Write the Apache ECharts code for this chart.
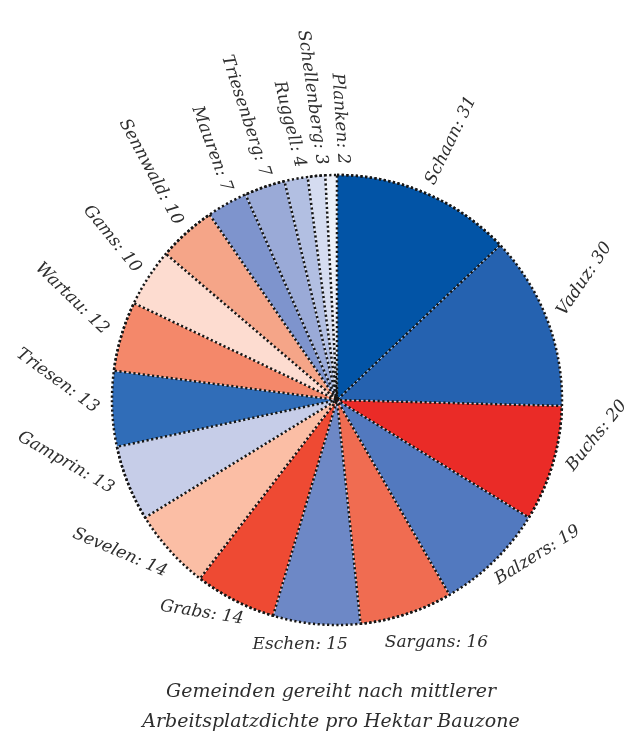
<!DOCTYPE html>
<html>
<head>
<meta charset="utf-8">
<script src="https://cdn.jsdelivr.net/npm/echarts@6/dist/echarts.min.js"></script>
<style>
  html, body { margin: 0; padding: 0; background: #fff; }
  #chart { width: 625px; height: 737px; }
</style>
</head>
<body>
<div id="chart"></div>
<script>
// Municipalities ordered by mean jobs per hectare of building zone
const municipalities = ['Schaan', 'Vaduz', 'Buchs', 'Balzers', 'Sargans', 'Eschen', 'Grabs', 'Sevelen',
  'Gamprin', 'Triesen', 'Wartau', 'Gams', 'Sennwald', 'Mauren', 'Triesenberg', 'Ruggell',
  'Schellenberg', 'Planken'];
const density = [31, 30, 20, 19, 16, 15, 14, 14, 13, 13, 12, 10, 10, 7, 7, 4, 3, 2];
const sliceColors = ['#0254a6', '#2562b0', '#ea2b27', '#5279bf', '#f06c51', '#6d88c6', '#ee4a33', '#fbbea5',
  '#c6cde8', '#306db8', '#f4886a', '#fddcd0', '#f5a588', '#7e94cd', '#9aaad7', '#b2bfe2',
  '#d5dcf0', '#eef1f9'];
const captionLines = ['Gemeinden gereiht nach mittlerer', 'Arbeitsplatzdichte pro Hektar Bauzone'];

// Label styling: tilt of each label (degrees, counter-clockwise), how the text
// sits against its slice (1 = starts at the rim, -1 = ends at the rim),
// extra distance from the rim and a small angular nudge (degrees).
const labelRotate = [64, 56, 51, 32, 0, 0, -9, -23, -30, -36, -44, -51, -62, -70, -72, -76, -82, -86];
const labelAnchor = [1, 1, 1, 0.75, 0.4, -0.3, -0.6, -0.7, -1, -1, -1, -1, -1, -1, -1, -1, -1, -1];
const labelPad = [10, 10, 10, 10, 22, 12, 10, 16, 10, 10, 12, 10, 10, 10, 10, 10, 10, 10];
const labelNudge = [0, 0, 0, 0, 0, 0, 0, 0, 0, 0, 0, 0, 0, 1.5, 1, 1.5, 1.5, 3];

const CX = 337, CY = 400, R = 225;
const LABEL_FONT_SIZE = 17;
const LABEL_FONT = 'italic ' + LABEL_FONT_SIZE + 'px "DejaVu Serif"';
const DOT = 2.2, DOT_GAP = 2.5, DOT_PERIOD = DOT + DOT_GAP, DOT_WIDTH = 2.5;

const measureCtx = document.createElement('canvas').getContext('2d');
measureCtx.font = LABEL_FONT;
function textWidth(s) { return measureCtx.measureText(s).width; }

const total = density.reduce((a, b) => a + b, 0);
const startAngles = [];
const midAngles = [];
{
  let acc = 0;
  density.forEach(v => {
    startAngles.push(acc / total * 2 * Math.PI);
    midAngles.push((acc + v / 2) / total * 2 * Math.PI);
    acc += v;
  });
}

const chart = echarts.init(document.getElementById('chart'), null, { renderer: 'canvas' });

const pieData = municipalities.map((name, i) => ({
  name: name,
  value: density[i],
  itemStyle: { color: sliceColors[i] }
}));

// Every radial edge belongs to exactly one even-indexed slice, so only those
// slices draw their dotted outline; dash offsets keep their rims in step with
// the dotted outer circle.
const outlineData = municipalities.map((name, i) => ({
  name: name,
  value: density[i],
  itemStyle: i % 2 === 0
    ? { borderWidth: DOT_WIDTH, borderDashOffset: (R * startAngles[i]) % DOT_PERIOD }
    : { borderWidth: 0 }
}));

const pieBase = {
  type: 'pie',
  center: [CX, CY],
  radius: [0, R],
  startAngle: 90,
  clockwise: true,
  emphasis: { disabled: true }
};

chart.setOption({
  backgroundColor: '#ffffff',
  animation: false,
  graphic: captionLines.map((line, i) => ({
    type: 'text',
    x: 331,
    y: 692 + i * 30,
    style: {
      text: line,
      align: 'center',
      verticalAlign: 'middle',
      font: 'italic 19px "DejaVu Serif"',
      fill: '#2e2e2e'
    }
  })),
  series: [Object.assign({}, pieBase, {
    // filled slices with a faint light seam
    avoidLabelOverlap: false,
    data: pieData,
    itemStyle: { borderColor: 'rgba(255,255,255,0.5)', borderWidth: 1 },
    label: {
      show: true,
      position: 'outside',
      formatter: '{b}: {c}',
      fontFamily: 'DejaVu Serif',
      fontStyle: 'italic',
      fontSize: LABEL_FONT_SIZE,
      color: '#2e2e2e'
    },
    labelLine: { show: false },
    labelLayout: function (params) {
      const i = params.dataIndex;
      const text = municipalities[i] + ': ' + density[i];
      const L = textWidth(text);
      const h = LABEL_FONT_SIZE;
      const th = midAngles[i] + labelNudge[i] * Math.PI / 180;
      const d = [Math.sin(th), -Math.cos(th)];
      const rot = labelRotate[i] * Math.PI / 180;
      const u = [Math.cos(rot), -Math.sin(rot)];
      const n = [Math.sin(rot), Math.cos(rot)];
      const m = Math.abs(n[0] * d[0] + n[1] * d[1]);
      const rr = R + labelPad[i] + (h / 2) * m;
      const s = labelAnchor[i] * L / 2;
      return {
        x: CX + rr * d[0] + s * u[0],
        y: CY + rr * d[1] + s * u[1],
        rotate: labelRotate[i],
        align: 'center',
        verticalAlign: 'middle',
        hideOverlap: false
      };
    }
  }), Object.assign({}, pieBase, {
    // dotted radial edges
    silent: true,
    data: outlineData,
    itemStyle: {
      color: 'rgba(0,0,0,0)',
      borderColor: '#161616',
      borderType: [DOT, DOT_GAP]
    },
    label: { show: false },
    labelLine: { show: false }
  }), Object.assign({}, pieBase, {
    // dotted outer rim
    silent: true,
    data: [{ name: 'rim', value: total }],
    itemStyle: {
      color: 'rgba(0,0,0,0)',
      borderColor: '#161616',
      borderWidth: DOT_WIDTH,
      borderType: [DOT, DOT_GAP]
    },
    label: { show: false },
    labelLine: { show: false }
  })]
});
</script>
</body>
</html>
